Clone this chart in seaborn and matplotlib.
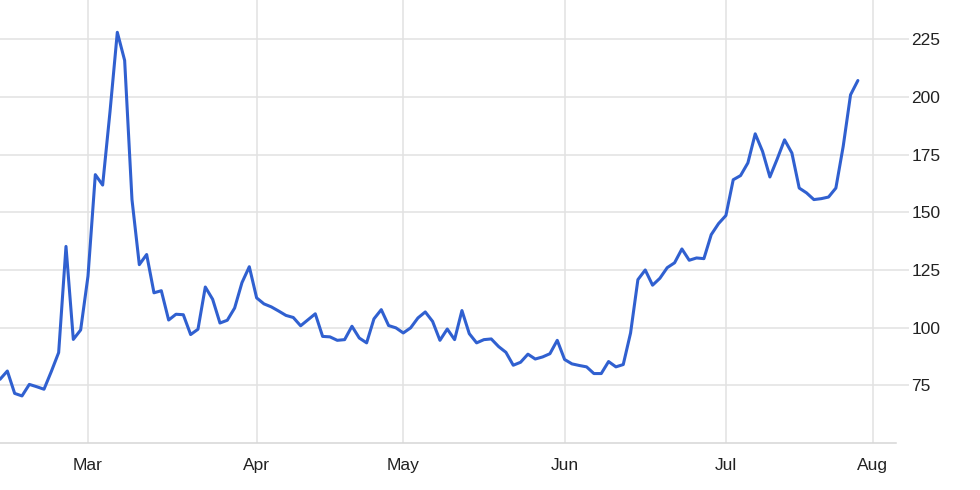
import numpy as np
import pandas as pd
import seaborn as sns
import matplotlib.pyplot as plt
from pandas.tseries.holiday import USFederalHolidayCalendar


# daily values, one per trading day
values = [
    77.6, 81.2, 71.5, 70.4, 75.4, 74.4, 73.3, 81.0, 89.2, 135.2,
    94.9, 99.0, 122.3, 166.3, 161.8, 193.5, 228.0, 215.8, 155.5, 127.3,
    131.7, 115.1, 116.0, 103.3, 105.8, 105.6, 97.0, 99.3, 117.6, 112.3,
    102.0, 103.2, 108.5, 119.5, 126.4, 112.9, 110.3, 109.0, 107.2, 105.3,
    104.4, 100.8, 103.4, 106.0, 96.2, 96.0, 94.5, 94.8, 100.6, 95.5,
    93.4, 103.8, 107.8, 100.9, 99.9, 97.7, 99.9, 104.2, 106.8, 102.7,
    94.5, 99.4, 94.8, 107.4, 97.4, 93.4, 94.8, 95.1, 91.8, 89.3,
    83.7, 85.0, 88.5, 86.4, 87.3, 88.7, 94.5, 86.2, 84.3, 83.6,
    83.0, 80.1, 80.1, 85.3, 83.0, 84.0, 97.7, 120.8, 125.0, 118.4,
    121.4, 126.0, 128.1, 134.1, 129.2, 130.2, 129.9, 140.3, 145.1, 148.6,
    164.1, 165.9, 171.4, 184.0, 176.4, 165.3, 173.1, 181.4, 175.7, 160.5,
    158.4, 155.5, 155.9, 156.6, 160.5, 178.6, 200.9, 207.1,
]
start_date = "2017-02-10"
month_starts = ["2017-03-01", "2017-04-01", "2017-05-01",
                "2017-06-01", "2017-07-01", "2017-08-01"]
month_labels = ["Mar", "Apr", "May", "Jun", "Jul", "Aug"]
y_ticks = [75, 100, 125, 150, 175, 200, 225]

# trading calendar -> evenly spaced points, month ticks where each month begins
trading_day = pd.offsets.CustomBusinessDay(calendar=USFederalHolidayCalendar())
calendar = pd.date_range(start_date, "2017-08-31", freq=trading_day)
tick_pos = [calendar.searchsorted(pd.Timestamp(d)) for d in month_starts]

df = pd.DataFrame({
    "day": np.arange(len(values)),
    "date": calendar[:len(values)],
    "value": values,
})

sns.set_style("white")
plt.rcParams["font.family"] = ["Liberation Sans", "DejaVu Sans"]

fig = plt.figure(figsize=(9.8, 4.9), dpi=100)
ax = fig.add_axes([0, 47 / 490, 896 / 980, 443 / 490])

sns.lineplot(data=df, x="day", y="value", color="#3060d0",
             linewidth=2.2, ax=ax)

ax.set_xlim(0, 122.2)
ax.set_ylim(50, 242)
ax.set_xticks(tick_pos)
ax.set_xticklabels(month_labels)
ax.set_yticks(y_ticks)
ax.yaxis.tick_right()
ax.set_xlabel("")
ax.set_ylabel("")

grid_col = "#e2e2e2"
ax.grid(True, color=grid_col, linewidth=1.1)
ax.set_axisbelow(True)
for side in ["top", "left", "right"]:
    ax.spines[side].set_visible(False)
ax.spines["bottom"].set_color("#d6d6d6")
ax.spines["bottom"].set_linewidth(1.1)

ax.tick_params(axis="x", length=0, pad=10.5, labelsize=12.5, labelcolor="#222222")
ax.tick_params(axis="y", length=9.5, width=1.1, color=grid_col, pad=1.5,
               labelsize=12.5, labelcolor="#222222")

fig.savefig("out.png", dpi=100)
